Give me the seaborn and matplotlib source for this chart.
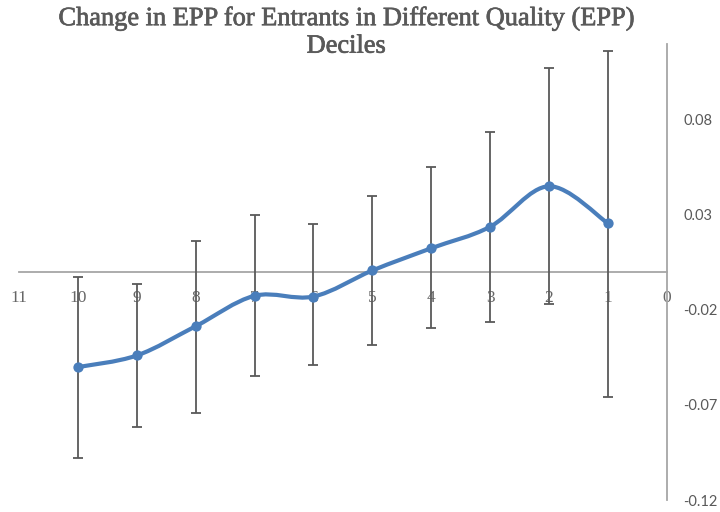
import matplotlib
matplotlib.use("Agg")
import matplotlib.pyplot as plt
from matplotlib.path import Path
from matplotlib.patches import PathPatch
import matplotlib.patheffects as pe
import seaborn as sns
import numpy as np
import pandas as pd

# decile (10 = lowest quality, 1 = highest)
deciles = [10, 9, 8, 7, 6, 5, 4, 3, 2, 1]
epp_change = [-0.0501, -0.0440, -0.0286, -0.0126, -0.0130, 0.0007, 0.0124, 0.0237, 0.0450, 0.0255]
ci_low = [-0.0977, -0.0815, -0.0742, -0.0546, -0.0492, -0.0384, -0.0297, -0.0265, -0.0169, -0.0658]
ci_high = [-0.0028, -0.0064, 0.0160, 0.0298, 0.0250, 0.0398, 0.0551, 0.0735, 0.1072, 0.1162]

x_ticks = list(range(0, 12))
y_ticks = [-0.12, -0.07, -0.02, 0.03, 0.08]

df = pd.DataFrame({"decile": deciles, "epp": epp_change, "lo": ci_low, "hi": ci_high})

sns.set_theme(style="white")
fig = plt.figure(figsize=(7.2, 5.12), dpi=100)
ax = fig.add_axes([0.0264, 0.0234, 0.8997, 0.8914])

grey_txt = "#595959"
axis_col = "#a6a6a6"
blue = "#4a7ebb"

# error bars
ax.errorbar(df["decile"], df["epp"],
            yerr=[df["epp"] - df["lo"], df["hi"] - df["epp"]],
            fmt="none", ecolor="#595959", elinewidth=1.3, capsize=3.6, capthick=1.3, zorder=3)


# smoothed line (Excel-style bezier through the points)
def smooth_path(xs, ys):
    pts = np.column_stack([xs, ys]).astype(float)
    n = len(pts)
    verts = [pts[0]]
    codes = [Path.MOVETO]
    for i in range(n - 1):
        p0 = pts[i - 1] if i > 0 else pts[i]
        p1 = pts[i]
        p2 = pts[i + 1]
        p3 = pts[i + 2] if i + 2 < n else pts[i + 1]
        c1 = p1 + (p2 - p0) / 6.0
        c2 = p2 - (p3 - p1) / 6.0
        verts += [c1, c2, p2]
        codes += [Path.CURVE4] * 3
    return Path(verts, codes)


ax.add_patch(PathPatch(smooth_path(df["decile"], df["epp"]), fill=False,
                       edgecolor=blue, lw=3.0, capstyle="round", joinstyle="round", zorder=4))
sns.scatterplot(data=df, x="decile", y="epp", ax=ax, color=blue, s=55,
                edgecolor=blue, linewidth=0, zorder=5, legend=False)

ax.set_xlim(11, 0)
ax.set_ylim(-0.12, 0.12)

for s in ["top", "left"]:
    ax.spines[s].set_visible(False)
ax.spines["bottom"].set_position(("data", 0))
ax.spines["right"].set_position(("data", 0))
for s in ["bottom", "right"]:
    ax.spines[s].set_color(axis_col)
    ax.spines[s].set_linewidth(1.3)

ax.set_xticks(x_ticks)
ax.set_xticklabels([str(t) for t in x_ticks], fontfamily="Liberation Serif",
                   fontsize=12.5, color="#666666")
ax.set_yticks(y_ticks)
ax.set_yticklabels([f"{t:.2f}" for t in y_ticks], fontfamily="Lato",
                   fontsize=10.5, color=grey_txt)
ax.yaxis.tick_right()
ax.tick_params(axis="x", length=0, pad=13)
ax.tick_params(axis="y", length=0, pad=12)
ax.set_xlabel("")
ax.set_ylabel("")

fig.text(0.481, 0.986, "Change in EPP for Entrants in Different Quality (EPP)\nDeciles",
         ha="center", va="top", fontfamily="Liberation Serif",
         fontsize=19, color=grey_txt, linespacing=1.3,
         path_effects=[pe.withStroke(linewidth=0.5, foreground=grey_txt)])

fig.savefig("out.png", dpi=100)
